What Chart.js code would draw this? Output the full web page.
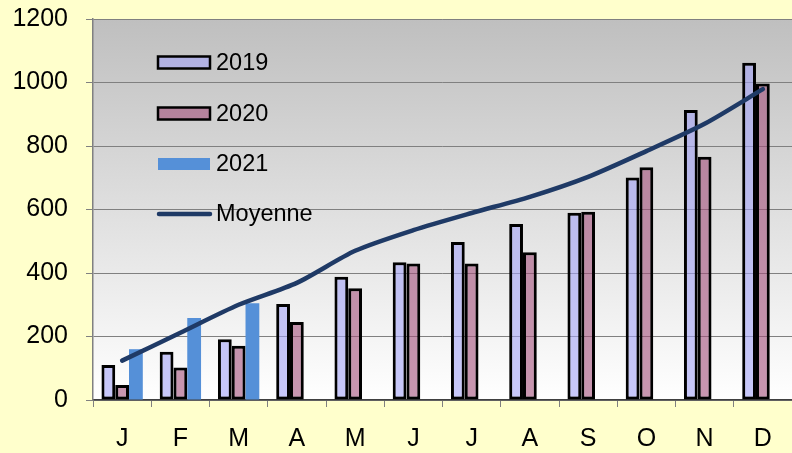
<!DOCTYPE html>
<html>
<head>
<meta charset="utf-8">
<script src="https://cdn.jsdelivr.net/npm/chart.js@4.4.1/dist/chart.umd.min.js"></script>
<style>
html,body{margin:0;padding:0;background:#FFFFCC;overflow:hidden;}
#wrap{width:792px;height:453px;}
</style>
</head>
<body>
<div id="wrap"><canvas id="c" width="792" height="453"></canvas></div>
<script>
const categories = ['J','F','M','A','M','J','J','A','S','O','N','D'];
const s2019 = [110,152,191,302,388,434,498,554,590,701,913,1062];
const s2020 = [47,102,171,246,352,430,430,465,593,733,766,997];
const s2021 = [160,258,305,null,null,null,null,null,null,null,null,null];
const moyenne = [124,212,300,369,470,535,589,640,703,784,870,979];
const yTicks = [0,200,400,600,800,1000,1200];
const seriesNames = ['2019','2020','2021','Moyenne'];

const FONT = "'Liberation Sans', Arial, sans-serif";

const bgPlugin = {
  id:'bg',
  beforeDraw(chart){
    const {ctx, chartArea:a} = chart;
    ctx.save();
    ctx.fillStyle = '#FFFFCC';
    ctx.fillRect(0,0,chart.width,chart.height);
    const g = ctx.createLinearGradient(0,a.top,0,a.bottom);
    g.addColorStop(0,'#bfbfbf');
    g.addColorStop(1,'#ffffff');
    ctx.fillStyle = g;
    ctx.fillRect(a.left,a.top,a.right-a.left,a.bottom-a.top);
    ctx.restore();
  }
};

const legendPlugin = {
  id:'customLegend',
  afterDraw(chart){
    const ctx = chart.ctx;
    const x0 = 158, w = 52, textX = 216;
    const rows = [62.5, 113.5, 164, 214];
    ctx.save();
    ctx.font = "23.5px " + FONT;
    ctx.textBaseline = 'middle';
    ctx.fillStyle = '#000';
    chart.data.datasets.forEach((ds,i)=>{
      const y = rows[i];
      if (ds.type === 'line') {
        ctx.strokeStyle = ds.borderColor;
        ctx.lineWidth = 4.5;
        ctx.lineCap = 'round';
        ctx.beginPath(); ctx.moveTo(x0+1,y); ctx.lineTo(x0+w,y); ctx.stroke();
      } else {
        ctx.fillStyle = ds.backgroundColor;
        ctx.fillRect(x0, y-6, w, 12);
        if (ds.borderWidth) {
          ctx.strokeStyle = '#000';
          ctx.lineWidth = 2.5;
          ctx.strokeRect(x0, y-6, w, 12);
        }
      }
      ctx.fillStyle = '#000';
      ctx.fillText(ds.label, textX, y+1);
    });
    ctx.restore();
  }
};

new Chart(document.getElementById('c'), {
  data: {
    labels: categories,
    datasets: [
      {type:'bar', label:seriesNames[0], data:s2019, backgroundColor:'rgba(163,163,247,0.6)', borderColor:'#000', borderWidth:3, borderSkipped:false, order:2},
      {type:'bar', label:seriesNames[1], data:s2020, backgroundColor:'rgba(163,80,123,0.6)', borderColor:'#000', borderWidth:3, borderSkipped:false, order:2},
      {type:'bar', label:seriesNames[2], data:s2021, backgroundColor:'#5590D8', borderWidth:0, order:2},
      {type:'line', label:seriesNames[3], data:moyenne, borderColor:'#1F3A66', borderWidth:4.5, pointRadius:0, tension:0.25, borderCapStyle:'round', borderJoinStyle:'round', order:0}
    ]
  },
  options: {
    responsive:false,
    animation:false,
    devicePixelRatio:1,
    layout:{padding:{top:19,left:0,right:0,bottom:0}},
    datasets:{bar:{categoryPercentage:0.71, barPercentage:1.0}},
    plugins:{legend:{display:false}, tooltip:{enabled:false}},
    scales:{
      x:{
        offset:true,
        grid:{display:true, drawOnChartArea:false, drawTicks:true, tickLength:7, color:'#808080', offset:true},
        border:{display:true, color:'#404040', width:1.5},
        ticks:{font:{family:FONT, size:25}, color:'#000', padding:17, maxRotation:0, autoSkip:false},
        afterFit(s){ s.height = 53; s.paddingLeft = 0; s.paddingRight = 0; }
      },
      y:{
        min:0, max:1200,
        afterBuildTicks(s){ s.ticks = yTicks.map(v=>({value:v})); },
        grid:{color:'#808080', lineWidth:1, tickLength:7, drawTicks:true},
        border:{display:true, color:'#808080', width:1.5},
        ticks:{font:{family:FONT, size:25}, color:'#000', padding:18, callback:(v)=>String(v)},
        afterFit(s){ s.width = 93; s.paddingTop = 0; s.paddingBottom = 0; }
      }
    }
  },
  plugins:[bgPlugin, legendPlugin]
});
</script>
</body>
</html>
